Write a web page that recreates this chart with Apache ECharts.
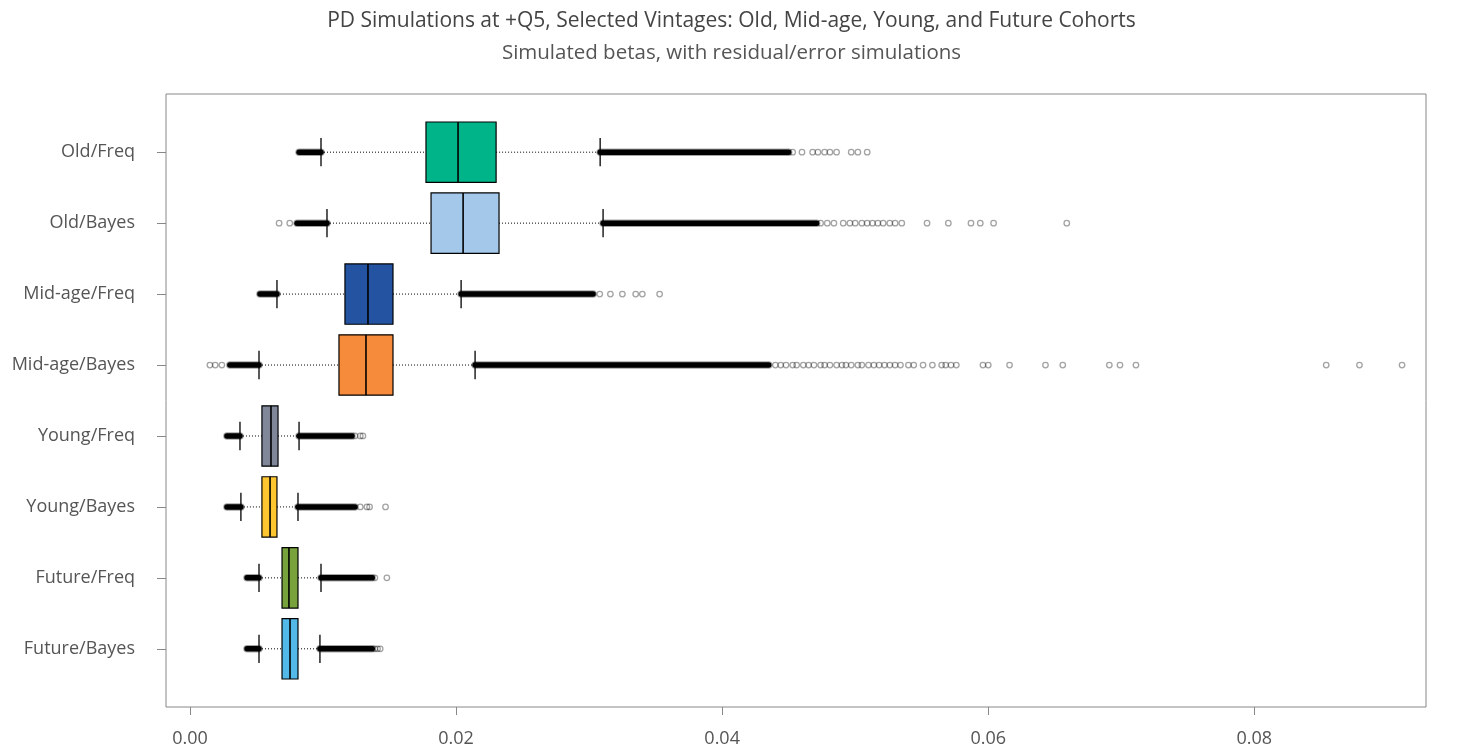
<!DOCTYPE html>
<html>
<head>
<meta charset="utf-8">
<script src="https://cdn.jsdelivr.net/npm/echarts@6/dist/echarts.min.js"></script>
<style>
html,body{margin:0;padding:0;background:#fff;}
#chart{width:1463px;height:754px;}
</style>
</head>
<body>
<div id="chart"></div>
<script>
// ---- data ----
const categories = ['Old/Freq','Old/Bayes','Mid-age/Freq','Mid-age/Bayes','Young/Freq','Young/Bayes','Future/Freq','Future/Bayes'];
const lowDenseStart = [0.0082, 0.00805, 0.00526, 0.0030, 0.00278, 0.00278, 0.00429, 0.00429];
const lowerWhisker  = [0.00985, 0.0103, 0.00654, 0.00519, 0.00376, 0.00383, 0.00519, 0.00519];
const q1            = [0.01774, 0.01812, 0.01165, 0.0112, 0.00541, 0.00541, 0.00692, 0.00692];
const median        = [0.02015, 0.02053, 0.01338, 0.01323, 0.00609, 0.00602, 0.00744, 0.00752];
const q3            = [0.02301, 0.02323, 0.01526, 0.01526, 0.00662, 0.00654, 0.00812, 0.00812];
const upperWhisker  = [0.03083, 0.03105, 0.02038, 0.02143, 0.0082, 0.00812, 0.00985, 0.00977];
const highDenseEnd  = [0.0450, 0.0471, 0.0303, 0.0435, 0.01218, 0.0124, 0.0137, 0.0137];
const sparseOutliers = [
  [0.0453,0.0460,0.0468,0.0472,0.0477,0.0481,0.0486,0.0497,0.0502,0.0509],
  [0.0067,0.0075,0.0474,0.0479,0.0484,0.0491,0.0496,0.0500,0.0505,0.0509,0.0513,0.0517,0.0521,0.0526,0.0530,0.0535,0.0554,0.0570,0.0587,0.0594,0.0604,0.0659],
  [0.0308,0.0316,0.0325,0.0335,0.0340,0.0353],
  [0.0015,0.0019,0.0024,0.0440,0.0444,0.0448,0.0453,0.0456,0.0461,0.0465,0.0469,0.0474,0.0477,0.0481,0.0486,0.0490,0.0493,0.0497,0.0502,0.0505,0.0510,0.0514,0.0518,0.0522,0.0526,0.0530,0.0534,0.0540,0.0544,0.0551,0.0558,0.0565,0.0568,0.0572,0.0576,0.0596,0.0600,0.0616,0.0643,0.0656,0.0691,0.0699,0.0711,0.0854,0.0879,0.0911],
  [0.0124,0.0128,0.0130],
  [0.0128,0.0133,0.0135,0.0147],
  [0.0139,0.0148],
  [0.0139,0.0141,0.0143]
];
const xTicks = [0, 0.02, 0.04, 0.06, 0.08];
const boxColors = ['#00b48a','#a3c8ea','#2453a2','#f58b3b','#7f8799','#fdc530','#77a23c','#52b9e9'];

// ---- build ----
const boxData = categories.map((c, i) => [lowDenseStart[i], lowerWhisker[i], q1[i], median[i], q3[i], upperWhisker[i], highDenseEnd[i], i + 1]);
const outlierData = [];
sparseOutliers.forEach((arr, i) => arr.forEach(v => outlierData.push([v, i + 1])));

const chart = echarts.init(document.getElementById('chart'), null, {renderer: 'canvas'});
const FONT = '"Open Sans", "Noto Sans", sans-serif';

function renderBox(params, api) {
  const i = params.dataIndex;
  const y = api.value(7);
  const unit = api.size([0, 1])[1];
  const hb = unit * 0.425, hc = unit * 0.2;
  const px = k => api.coord([api.value(k), y])[0];
  const cy = api.coord([0, y])[1];
  const xLD = px(0), xLW = px(1), xQ1 = px(2), xMed = px(3), xQ3 = px(4), xUW = px(5), xHD = px(6);
  const dense = {stroke: '#000', lineWidth: 5.5, lineCap: 'round'};
  const densHalo = {stroke: 'rgba(0,0,0,0.35)', lineWidth: 7.5, lineCap: 'round'};
  const dotted = {stroke: '#000', lineWidth: 1, lineDash: [1, 2]};
  const solid = {stroke: '#000', lineWidth: 1.3};
  return {
    type: 'group',
    children: [
      {type: 'line', shape: {x1: xLD, y1: cy, x2: xLW, y2: cy}, style: densHalo},
      {type: 'line', shape: {x1: xLD, y1: cy, x2: xLW, y2: cy}, style: dense},
      {type: 'line', shape: {x1: xUW, y1: cy, x2: xHD, y2: cy}, style: densHalo},
      {type: 'line', shape: {x1: xUW, y1: cy, x2: xHD, y2: cy}, style: dense},
      {type: 'line', shape: {x1: xLW, y1: cy, x2: xQ1, y2: cy}, style: dotted},
      {type: 'line', shape: {x1: xQ3, y1: cy, x2: xUW, y2: cy}, style: dotted},
      {type: 'line', shape: {x1: xLW, y1: cy - hc, x2: xLW, y2: cy + hc}, style: solid},
      {type: 'line', shape: {x1: xUW, y1: cy - hc, x2: xUW, y2: cy + hc}, style: solid},
      {type: 'rect', shape: {x: xQ1, y: cy - hb, width: xQ3 - xQ1, height: 2 * hb}, style: {fill: boxColors[i], stroke: '#000', lineWidth: 1.2}},
      {type: 'line', shape: {x1: xMed, y1: cy - hb, x2: xMed, y2: cy + hb}, style: {stroke: '#000', lineWidth: 1.6}}
    ]
  };
}

chart.setOption({
  animation: false,
  backgroundColor: '#fff',
  title: [
    {text: 'PD Simulations at +Q5, Selected Vintages: Old, Mid-age, Young, and Future Cohorts', left: 'center', top: 6,
     textStyle: {fontFamily: FONT, fontSize: 21, fontWeight: 'normal', color: '#444'}},
    {text: 'Simulated betas, with residual/error simulations', left: 'center', top: 38,
     textStyle: {fontFamily: FONT, fontSize: 20.5, fontWeight: 'normal', color: '#555'}}
  ],
  grid: {left: 166, right: 37, top: 94, bottom: 47, show: true, borderColor: '#888', borderWidth: 1,
         backgroundColor: 'transparent'},
  xAxis: {
    type: 'value', min: -0.0018, max: 0.0929,
    axisLine: {show: false, onZero: false},
    splitLine: {show: false},
    axisTick: {show: true, customValues: xTicks, length: 8, lineStyle: {color: '#888'}},
    axisLabel: {customValues: xTicks, formatter: v => v.toFixed(2), fontFamily: FONT, fontSize: 18, color: '#555', margin: 23}
  },
  yAxis: {
    type: 'value', min: 0.18, max: 8.82, inverse: true,
    axisLine: {show: false, onZero: false},
    splitLine: {show: false},
    axisTick: {show: true, customValues: [1,2,3,4,5,6,7,8], length: 9, lineStyle: {color: '#888'}},
    axisLabel: {customValues: [1,2,3,4,5,6,7,8], formatter: v => categories[Math.round(v) - 1], fontFamily: FONT, fontSize: 18, color: '#555', margin: 31}
  },
  series: [
    {
      type: 'custom', name: 'boxes', renderItem: renderBox, data: boxData,
      encode: {x: [0, 1, 2, 3, 4, 5, 6], y: 7}, clip: true, z: 2
    },
    {
      type: 'scatter', name: 'outliers', data: outlierData, symbol: 'circle', symbolSize: 5.5,
      itemStyle: {color: 'rgba(255,255,255,0)', borderColor: 'rgba(0,0,0,0.45)', borderWidth: 1.3}, z: 3,
      silent: true
    }
  ]
});
</script>
</body>
</html>
